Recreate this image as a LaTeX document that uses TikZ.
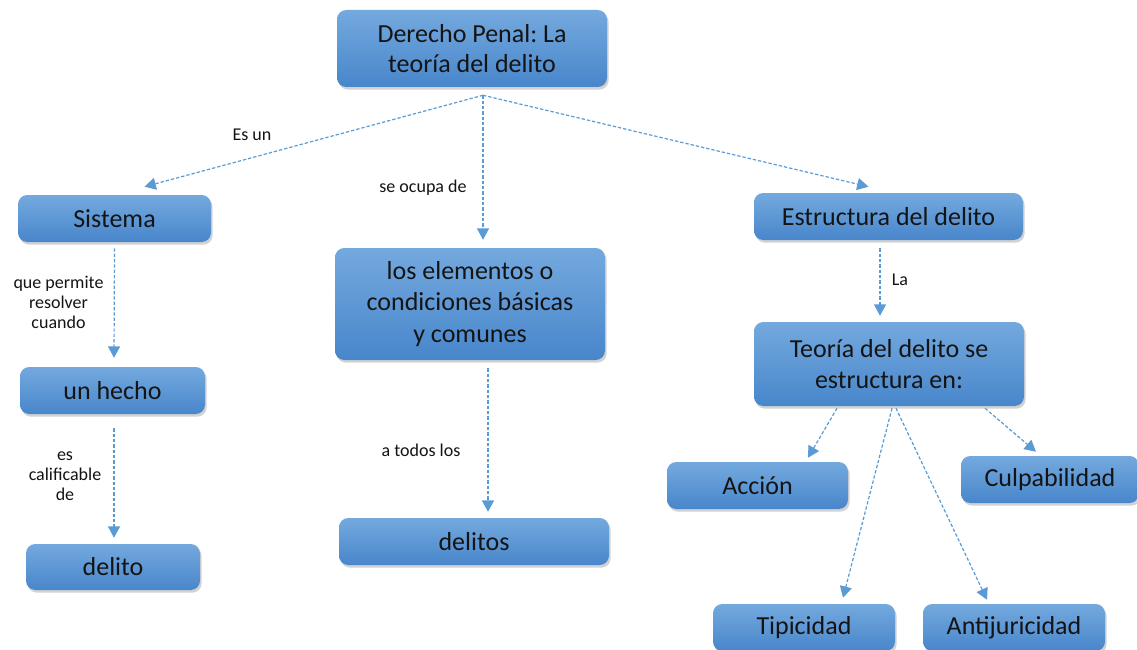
\documentclass[tikz,border=0pt]{standalone}
\usepackage{fontspec}
\setmainfont{Carlito}
\frenchspacing
\usetikzlibrary{arrows.meta,shadows,calc}
\definecolor{boxtop}{HTML}{74A9DE}
\definecolor{boxbot}{HTML}{4886CB}
\definecolor{linecol}{HTML}{5B9BD5}
\definecolor{txt}{HTML}{141414}
\tikzset{
  box/.style={rounded corners=7pt, top color=boxtop, bottom color=boxbot, draw=none,
    align=center, text=txt, font=\fontsize{19.5}{23}\selectfont, inner sep=0pt,
    drop shadow={shadow xshift=1.2pt, shadow yshift=-2pt, opacity=0.25, fill=black!70}},
  conn/.style={draw=linecol, line width=0.9pt, dash pattern=on 2.5pt off 1.5pt,
    -{Triangle[length=8.5pt,width=9pt]}},
  lbl/.style={align=center, text=txt, font=\fontsize{13.5}{15}\selectfont, inner sep=0pt}
}
\begin{document}
\begin{tikzpicture}[x=0.75pt,y=-0.75pt]
\clip (0,0) rectangle (1137,649);
\fill[white] (0,0) rectangle (1137,649);
% nodes
\node[box, minimum width=270*0.75pt, minimum height=77*0.75pt] (root) at (472,48.5) {Derecho Penal: La\\teoría del delito};
\node[box, minimum width=193*0.75pt, minimum height=47*0.75pt] (sist) at (114.5,218.5) {Sistema};
\node[box, minimum width=185*0.75pt, minimum height=47*0.75pt] (hecho) at (112.5,390.5) {un hecho};
\node[box, minimum width=174*0.75pt, minimum height=46*0.75pt] (delito) at (113,567) {delito};
\node[box, minimum width=270*0.75pt, minimum height=112*0.75pt, font=\fontsize{19.5}{23.5}\selectfont] (elem) at (470,304) {los elementos o\\condiciones básicas\\y comunes};
\node[box, minimum width=270*0.75pt, minimum height=47*0.75pt] (delitos) at (474,541.5) {delitos};
\node[box, minimum width=269*0.75pt, minimum height=47*0.75pt] (estr) at (888.5,216.5) {Estructura del delito};
\node[box, minimum width=270*0.75pt, minimum height=84*0.75pt] (teoria) at (889,364) {Teoría del delito se\\estructura en:};
\node[box, minimum width=181*0.75pt, minimum height=47*0.75pt] (accion) at (757.5,485.5) {Acción};
\node[box, minimum width=178*0.75pt, minimum height=47*0.75pt] (culp) at (1050,479.5) {Culpabilidad};
\node[box, minimum width=182*0.75pt, minimum height=47*0.75pt] (tip) at (804,627.5) {Tipicidad};
\node[box, minimum width=182*0.75pt, minimum height=47*0.75pt] (anti) at (1014,627.5) {Antijuricidad};
% connectors
\draw[conn] ($(root.south)+(11,8)$) -- ($(sist.north)+(30,-8)$);
\draw[conn] ($(root.south)+(11,8)$) -- ($(elem.north)+(13,-8)$);
\draw[conn] ($(root.south)+(11,8)$) -- ($(estr.north)+(-20,-6)$);
\draw[conn] ($(sist.south)+(0,6)$) -- ($(hecho.north)+(1.5,-9)$);
\draw[conn] ($(hecho.south)+(1.5,14)$) -- ($(delito.north)+(1,-6)$);
\draw[conn] ($(elem.south)+(18,8)$) -- ($(delitos.north)+(14,-6)$);
\draw[conn] ($(estr.south)+(-8.5,8)$) -- ($(teoria.north)+(-9,-6)$);
\draw[conn] ($(teoria.south)+(-52,2)$) -- ($(accion.north)+(50.5,-4)$);
\draw[conn] ($(teoria.south)+(3,2)$) -- ($(tip.north)+(39,-6)$);
\draw[conn] ($(teoria.south)+(7,2)$) -- ($(anti.north)+(-27,-4)$);
\draw[conn] ($(teoria.south)+(96,2)$) -- ($(culp.north)+(-14,-4)$);
% labels
\node[lbl] (l1) at (252,135) {Es un};
\node[lbl] (l2) at (423,188) {se ocupa de};
\node[lbl] (l3) at (58.5,302) {que permite\\resolver\\cuando};
\node[lbl] (l4) at (65,476) {es\\calificable\\de};
\node[lbl] (l5) at (421,450) {a todos los};
\node[lbl] (l6) at (900,280) {La};
\end{tikzpicture}
\end{document}
